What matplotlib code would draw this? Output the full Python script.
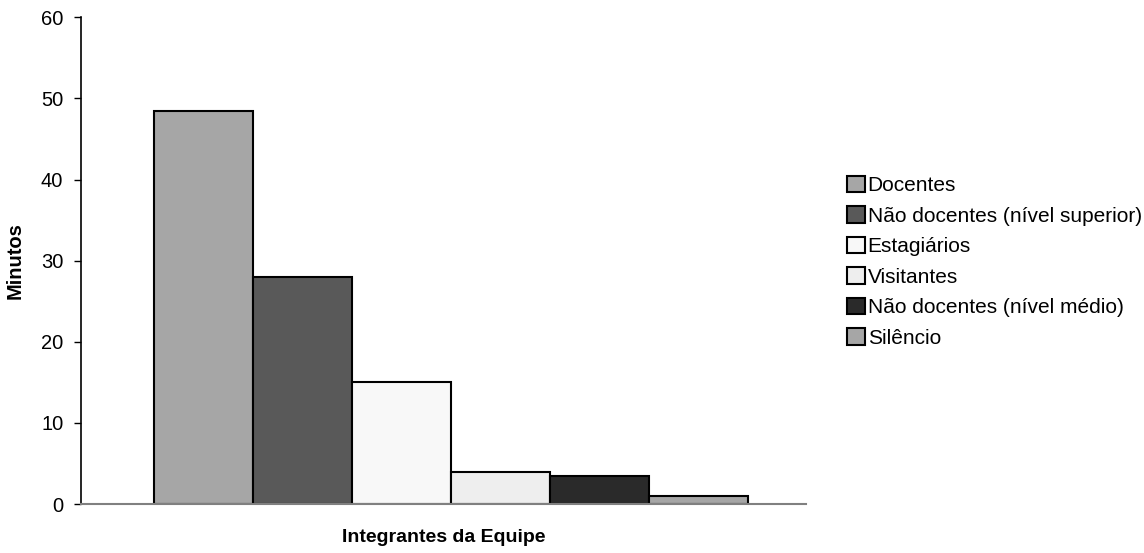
import matplotlib
matplotlib.use("Agg")
import matplotlib.pyplot as plt
import numpy as np

plt.rcParams['font.family'] = ['Liberation Sans', 'DejaVu Sans']

# dados
grupos = ["Docentes", "Não docentes (nível superior)", "Estagiários",
          "Visitantes", "Não docentes (nível médio)", "Silêncio"]
minutos = [48.5, 28, 15, 4, 3.5, 1]
cores = ["#a6a6a6", "#595959", "#f8f8f8", "#eeeeee", "#2a2a2a", "#a6a6a6"]

fig = plt.figure(figsize=(11.44, 5.53), dpi=100)
ax = fig.add_axes([0.0705, 0.0886, 0.634, 0.880])

pos = np.arange(len(grupos))
for i in range(len(grupos)):
    ax.bar(pos[i], minutos[i], width=1.0, color=cores[i], edgecolor="black",
           linewidth=1.5, label=grupos[i])

ax.set_xlim(-1.24, 6.086)
ax.set_ylim(0, 60)
ax.set_yticks(range(0, 61, 10))
ax.set_xticks([])
ax.tick_params(axis='y', direction='out', length=5, width=1.0, labelsize=14.5, pad=7.5)

ax.spines['top'].set_visible(False)
ax.spines['right'].set_visible(False)
ax.spines['bottom'].set_color("#808080")
ax.spines['bottom'].set_linewidth(1.5)
ax.spines['left'].set_linewidth(1.2)

ax.set_ylabel("Minutos", fontsize=14.5, fontweight='bold')
ax.yaxis.set_label_coords(-0.077, 0.5)
ax.set_xlabel("Integrantes da Equipe", fontsize=14, fontweight='bold')
ax.xaxis.set_label_coords(0.5, -0.052)

leg = fig.legend(loc='upper left', bbox_to_anchor=(0.733, 0.6976), frameon=False,
                 fontsize=15, handlelength=0.85, handleheight=0.85, handletextpad=0.15,
                 labelspacing=0.53, borderaxespad=0)

fig.savefig("out.png", dpi=100)
